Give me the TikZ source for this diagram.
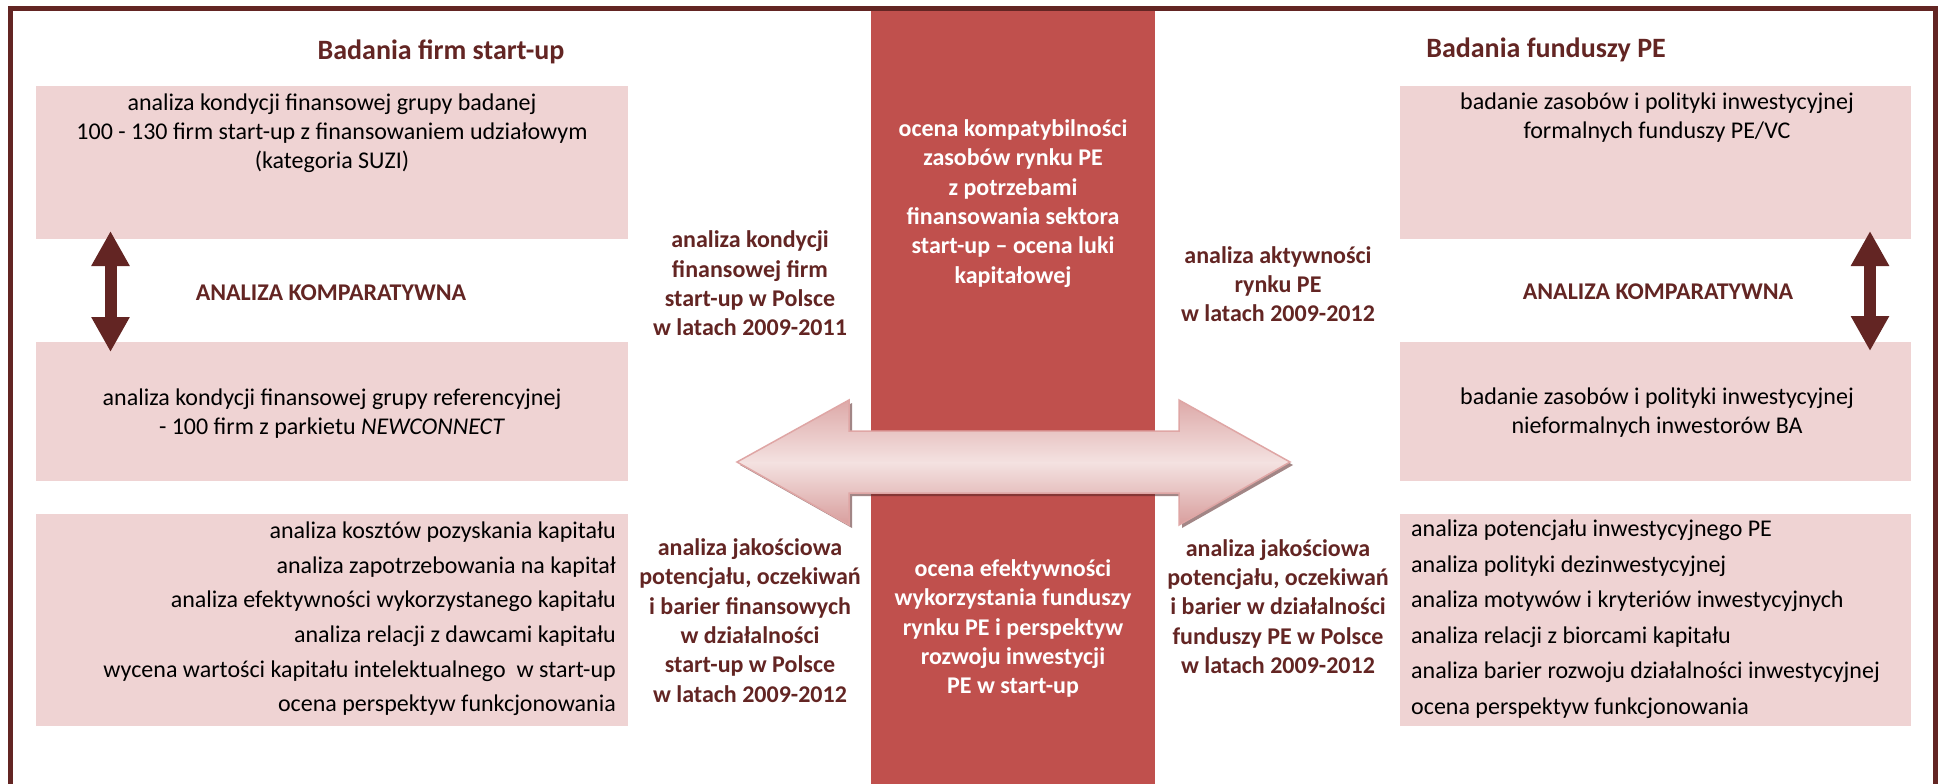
\documentclass[tikz,border=0pt]{standalone}
\usepackage{fontspec}
\setmainfont{Carlito}
\usetikzlibrary{arrows.meta}
\definecolor{maroon}{HTML}{632523}
\definecolor{boxpink}{HTML}{EFD3D3}
\definecolor{colred}{HTML}{C0504D}
\definecolor{arrowedge}{HTML}{DFA6A5}
\definecolor{arrowtop}{HTML}{DDA9A8}
\definecolor{arrowmid}{HTML}{F4E2E1}
\definecolor{arrowbot}{HTML}{D89E9D}
\begin{document}
\begin{tikzpicture}[x=1pt,y=-1pt,
  pbox/.style={fill=boxpink, draw=none, inner sep=0pt, outer sep=0pt, anchor=north west},
  body/.style={font=\fontsize{24}{29}\selectfont, align=center, inner sep=0pt, text=black},
  lbl/.style={font=\bfseries\fontsize{24}{29.3}\selectfont, align=center, inner sep=0pt, text=maroon},
  wlbl/.style={font=\bfseries\fontsize{24}{29.4}\selectfont, align=center, inner sep=0pt, text=white},
  ttl/.style={font=\bfseries\fontsize{28}{34}\selectfont, inner sep=0pt, text=maroon},
  vdbl/.style={maroon, line width=12pt, {Triangle[width=36pt,length=35pt]}-{Triangle[width=36pt,length=35pt]}},
]
\useasboundingbox (0,0) rectangle (1941,784);
\fill[white] (0,0) rectangle (1941,784);
% central red column
\fill[colred] (871,10) rectangle (1155,784);
% frame
\draw[maroon, line width=5pt] (10.8,790) -- (10.8,8.5) -- (1935,8.5) -- (1935,790);

% boxes
\node[pbox, minimum width=592pt, minimum height=153pt] (L1) at (36,86) {};
\node[pbox, minimum width=592pt, minimum height=139pt] (L2) at (36,342) {};
\node[pbox, minimum width=592pt, minimum height=212pt] (L3) at (36,514) {};
\node[pbox, minimum width=511pt, minimum height=153pt] (R1) at (1400,86) {};
\node[pbox, minimum width=511pt, minimum height=139pt] (R2) at (1400,342) {};
\node[pbox, minimum width=511pt, minimum height=212pt] (R3) at (1400,514) {};

% titles
\node[ttl] (t1) at (441,52) {Badania firm start-up};
\node[ttl] (t2) at (1546,50) {Badania funduszy PE};

% box texts
\node[body] (L1t) at (332,133) {analiza kondycji finansowej grupy badanej\\100 - 130 firm start-up z finansowaniem udziałowym\\(kategoria SUZI)};
\node[body] (L2t) at (332,413.5) {analiza kondycji finansowej grupy referencyjnej\\- 100 firm z parkietu \textit{NEWCONNECT}};
\node[body, align=right, font=\fontsize{24}{34.6}\selectfont, anchor=east] (L3t) at (616,619) {analiza kosztów pozyskania kapitału\\analiza zapotrzebowania na kapitał\\analiza efektywności wykorzystanego kapitału\\analiza relacji z dawcami kapitału\\wycena wartości kapitału intelektualnego\ \ w start-up\\ocena perspektyw funkcjonowania};
\node[body] (R1t) at (1657,117.5) {badanie zasobów i polityki inwestycyjnej\\formalnych funduszy PE/VC};
\node[body] (R2t) at (1657,412.5) {badanie zasobów i polityki inwestycyjnej\\nieformalnych inwestorów BA};
\node[body, align=left, font=\fontsize{24}{35.5}\selectfont, anchor=west] (R3t) at (1411,619) {analiza potencjału inwestycyjnego PE\\analiza polityki dezinwestycyjnej\\analiza motywów i kryteriów inwestycyjnych\\analiza relacji z biorcami kapitału\\analiza barier rozwoju działalności inwestycyjnej\\ocena perspektyw funkcjonowania};

% comparative labels
\node[lbl] (cmpL) at (331,293) {ANALIZA KOMPARATYWNA};
\node[lbl] (cmpR) at (1658,292) {ANALIZA KOMPARATYWNA};

% vertical double arrows
\coordinate (la1) at (110.5,231);
\coordinate (la2) at (110.5,352);
\coordinate (ra1) at (1870,231);
\coordinate (ra2) at (1870,351);
\draw[vdbl] (la1) -- (la2);
\draw[vdbl] (ra1) -- (ra2);

% big horizontal double arrow
\def\bigarrow{(737,462) -- (849,400) -- (849,431) -- (1179,431) -- (1179,400) -- (1290,462)
  -- (1179,525) -- (1179,493) -- (849,493) -- (849,525) -- cycle}
\fill[black!55!colred, opacity=0.55, shift={(3pt,-3pt)}] \bigarrow;
\begin{scope}
  \clip \bigarrow;
  \foreach \i in {0,...,63} {
    \pgfmathsetmacro\p{\i/63*100}
    \fill[arrowmid!\p!arrowtop] (730,400+\i) rectangle (1300,401.2+\i);
  }
  \foreach \i in {0,...,63} {
    \pgfmathsetmacro\p{100-\i/63*100}
    \fill[arrowmid!\p!arrowbot] (730,462+\i) rectangle (1300,463.2+\i);
  }
\end{scope}
\draw[arrowedge, line width=1.5pt, line join=miter] \bigarrow;

% middle texts
\node[lbl] (m1) at (750,283.5) {analiza kondycji\\finansowej firm\\start-up w Polsce\\w latach 2009-2011};
\node[wlbl] (c1) at (1013,203.5) {ocena kompatybilności\\zasobów rynku PE\\z potrzebami\\finansowania sektora\\start-up – ocena luki\\kapitałowej};
\node[lbl] (m2) at (1278,284) {analiza aktywności\\rynku PE\\w latach 2009-2012};
\node[lbl] (m3) at (750,620.5) {analiza jakościowa\\potencjału, oczekiwań\\i barier finansowych\\w działalności\\start-up w Polsce\\w latach 2009-2012};
\node[wlbl] (c2) at (1013,628.5) {ocena efektywności\\wykorzystania funduszy\\rynku PE i perspektyw\\rozwoju inwestycji\\PE w start-up};
\node[lbl] (m4) at (1278,606.5) {analiza jakościowa\\potencjału, oczekiwań\\i barier w działalności\\funduszy PE w Polsce\\w latach 2009-2012};
\end{tikzpicture}
\end{document}
